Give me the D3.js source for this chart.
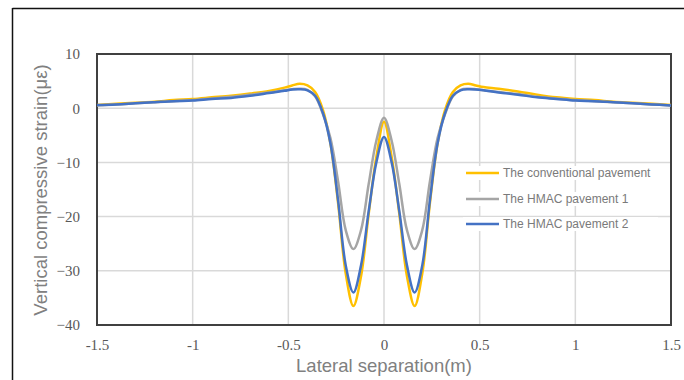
<!DOCTYPE html>
<html><head><meta charset="utf-8">
<script src="https://cdn.jsdelivr.net/npm/d3@7"></script>
<style>html,body{margin:0;padding:0;background:#fff;}svg{display:block;}</style>
</head><body>
<svg id="chart" width="684" height="380"></svg>
<script>
const xValues = [-1.5,-1.4,-1.3,-1.2,-1.1,-1.0,-0.9,-0.8,-0.7,-0.6,-0.52,-0.48,-0.44,-0.4,-0.36,-0.32,-0.28,-0.24,-0.2,-0.16,-0.12,-0.08,-0.04,0,
  0.04,0.08,0.12,0.16,0.2,0.24,0.28,0.32,0.36,0.4,0.44,0.48,0.52,0.6,0.7,0.8,0.9,1.0,1.1,1.2,1.3,1.4,1.5];
const conventional = [0.6,0.8,1.0,1.2,1.5,1.7,2.0,2.3,2.7,3.2,3.8,4.2,4.5,4.2,3.0,-0.2,-6.5,-17.5,-30.5,-36.5,-31,-19.5,-9,-2.5,
  -9,-19.5,-31,-36.5,-30.5,-17.5,-6.5,-0.2,3.0,4.2,4.5,4.2,3.9,3.6,3.1,2.5,2.0,1.7,1.5,1.2,1.0,0.8,0.6];
const hmac1 = [0.5,0.7,0.9,1.1,1.3,1.5,1.8,2.1,2.5,2.9,3.3,3.5,3.6,3.4,2.2,-1.0,-5.5,-13.5,-22.5,-26,-22.5,-14,-6,-1.75,
  -6,-14,-22.5,-26,-22.5,-13.5,-5.5,-1.0,2.2,3.4,3.6,3.5,3.3,3.0,2.6,2.1,1.8,1.5,1.3,1.1,0.9,0.7,0.5];
const hmac2 = [0.6,0.7,0.9,1.1,1.3,1.4,1.7,1.9,2.3,2.8,3.2,3.45,3.5,3.3,2.3,-0.8,-6.5,-17,-29,-34,-29,-19,-10,-5.3,
  -10,-19,-29,-34,-29,-17,-6.5,-0.8,2.3,3.3,3.5,3.45,3.3,2.9,2.5,2.0,1.7,1.4,1.3,1.1,0.9,0.7,0.5];
const xTicks = [-1.5,-1,-0.5,0,0.5,1,1.5];
const xTickLabels = ["-1.5","-1","-0.5","0","0.5","1","1.5"];
const yTicks = [10,0,-10,-20,-30,-40];
const seriesNames = ["The conventional pavement","The HMAC pavement 1","The HMAC pavement 2"];
const seriesColors = ["#FFC000","#A5A5A5","#4472C4"];
const seriesData = [conventional, hmac1, hmac2];

const svg = d3.select("#chart");
const L = 97, R = 671, T = 54, B = 325;
const x = d3.scaleLinear().domain([-1.5,1.5]).range([L,R]);
const y = d3.scaleLinear().domain([-40,10]).range([B,T]);

// outer frame
svg.append("line").attr("x1",12.5).attr("x2",684).attr("y1",8.5).attr("y2",8.5).attr("stroke","#111").attr("stroke-width",1.5);
svg.append("line").attr("x1",12.5).attr("x2",12.5).attr("y1",8).attr("y2",380).attr("stroke","#111").attr("stroke-width",1.5);

// gridlines
const grid = svg.append("g");
grid.selectAll("line.v").data(xTicks).join("line")
  .attr("x1",d=>x(d)).attr("x2",d=>x(d)).attr("y1",T).attr("y2",B)
  .attr("stroke","#d9d9d9").attr("stroke-width",1.5);
grid.selectAll("line.h").data(yTicks).join("line")
  .attr("x1",L).attr("x2",R).attr("y1",d=>y(d)).attr("y2",d=>y(d))
  .attr("stroke","#d9d9d9").attr("stroke-width",1.5);

// plot border
svg.append("rect").attr("x",L).attr("y",T).attr("width",R-L).attr("height",B-T)
  .attr("fill","none").attr("stroke","#404040").attr("stroke-width",2);

function styleTicks(g){
  g.select(".domain").remove();
  g.selectAll(".tick text")
    .style("font-family","'Liberation Serif','Times New Roman',serif")
    .style("font-size","15px")
    .style("fill","#595959");
}
// axes labels
const xAxis = d3.axisBottom(x).tickValues(xTicks).tickFormat((d,i)=>xTickLabels[i]).tickSize(0).tickPadding(14);
svg.append("g").attr("transform",`translate(0,${B})`).call(xAxis).call(styleTicks);

const yAxis = d3.axisLeft(y).tickValues(yTicks).tickSize(0).tickPadding(17);
svg.append("g").attr("transform",`translate(${L},0)`).call(yAxis).call(styleTicks);

// lines
const line = d3.line().x((d,i)=>x(xValues[i])).y(d=>y(d)).curve(d3.curveCatmullRom.alpha(0.5));
seriesData.forEach((s,k)=>{
  svg.append("path").datum(s).attr("d",line).attr("fill","none")
    .attr("stroke",seriesColors[k]).attr("stroke-width",2.5).attr("stroke-linejoin","round");
});

// legend
const lg = svg.append("g");
const rowsY = [173, 199, 224];
seriesNames.forEach((n,i)=>{
  lg.append("rect").attr("x",463).attr("y",rowsY[i]-7).attr("width",195).attr("height",14).attr("fill","#fff");
  lg.append("line").attr("x1",466).attr("x2",499).attr("y1",rowsY[i]).attr("y2",rowsY[i])
    .attr("stroke",seriesColors[i]).attr("stroke-width",2.5);
  lg.append("text").attr("x",503).attr("y",rowsY[i]).attr("dy","0.35em").text(n)
    .attr("font-family","'Liberation Sans', Arial, sans-serif").attr("font-size",12).attr("fill","#7a7a7a");
});

// axis titles
svg.append("text").attr("x",384).attr("y",372).attr("text-anchor","middle")
  .attr("font-family","'Liberation Sans', Arial, sans-serif").attr("font-size",18.5).attr("fill","#808080")
  .text("Lateral separation(m)");
svg.append("text").attr("transform","translate(41,190) rotate(-90)").attr("dy","0.35em").attr("text-anchor","middle")
  .attr("font-family","'Liberation Sans', Arial, sans-serif").attr("font-size",18.5).attr("fill","#808080")
  .text("Vertical compressive strain(με)");
</script>
</body></html>
